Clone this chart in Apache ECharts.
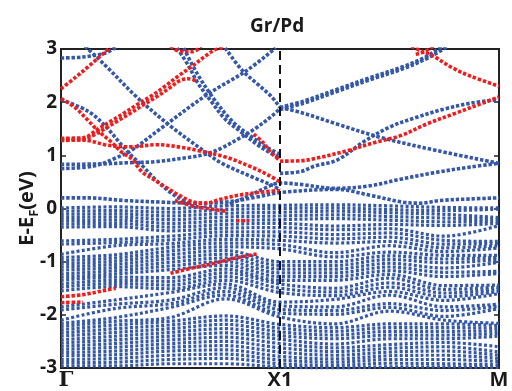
<!DOCTYPE html>
<html>
<head>
<meta charset="utf-8">
<script src="https://cdn.jsdelivr.net/npm/echarts@6/dist/echarts.min.js"></script>
<style>
  html, body { margin: 0; padding: 0; background: #fff; }
  #chart { width: 512px; height: 391px; }
</style>
</head>
<body>
<div id="chart"></div>
<script>
// high-symmetry path: Γ = 0, X1 = 1, M = 2
const kTicks = [0, 1, 2]
const kLabels = ['Γ', 'X1', 'M']

// dense valence manifold, energies (eV) read at 9 k columns
const denseK = [0, 0.25, 0.5, 0.75, 1, 1.25, 1.5, 1.75, 2]
const denseAtG = [0.01, -0.05, -0.11, -0.17, -0.23, -0.29, -0.35, -0.61, -0.67, -0.86, -0.92, -0.98, -1.04, -1.10, -1.16, -1.23, -1.29, -1.35, -1.42, -1.48, -1.55, -1.85, -1.91, -2.10, -2.16, -2.22, -2.28, -2.34, -2.40, -2.47, -2.53, -2.59, -2.65, -2.71, -2.77, -2.84, -2.90, -2.96]
const denseAt025 = [0.03, -0.04, -0.10, -0.16, -0.22, -0.28, -0.34, -0.58, -0.64, -0.70, -0.87, -0.93, -0.99, -1.05, -1.11, -1.17, -1.23, -1.29, -1.35, -1.41, -1.47, -1.72, -1.80, -1.88, -2.05, -2.12, -2.19, -2.26, -2.33, -2.40, -2.47, -2.54, -2.61, -2.68, -2.75, -2.82, -2.89, -2.96]
const denseAt050 = [0.0, -0.07, -0.14, -0.21, -0.28, -0.35, -0.42, -0.52, -0.59, -0.66, -0.73, -0.80, -0.87, -0.94, -1.01, -1.08, -1.15, -1.30, -1.37, -1.44, -1.51, -1.58, -1.72, -1.79, -1.86, -2.05, -2.12, -2.19, -2.26, -2.33, -2.40, -2.47, -2.54, -2.61, -2.68, -2.76, -2.84, -2.92]
const denseAt075 = [0.05, -0.02, -0.09, -0.16, -0.23, -0.30, -0.37, -0.44, -0.51, -0.58, -0.65, -0.72, -0.79, -0.86, -0.93, -1.00, -1.07, -1.14, -1.21, -1.28, -1.35, -1.42, -1.49, -1.56, -1.63, -1.70, -2.02, -2.10, -2.18, -2.26, -2.34, -2.42, -2.50, -2.58, -2.66, -2.74, -2.82, -2.92]
const denseAtX1 = [0.06, 0.0, -0.07, -0.14, -0.21, -0.28, -0.36, -0.44, -0.52, -0.60, -0.68, -0.76, -1.00, -1.07, -1.14, -1.21, -1.28, -1.35, -1.42, -1.50, -1.58, -1.76, -1.83, -1.90, -1.97, -2.04, -2.18, -2.25, -2.32, -2.39, -2.46, -2.54, -2.62, -2.70, -2.78, -2.85, -2.92, -2.98]
const denseAt125 = [0.07, 0.01, -0.05, -0.12, -0.19, -0.33, -0.40, -0.49, -0.57, -0.65, -0.83, -0.91, -1.00, -1.07, -1.14, -1.21, -1.28, -1.35, -1.50, -1.57, -1.64, -1.71, -1.85, -1.92, -1.99, -2.17, -2.24, -2.31, -2.38, -2.45, -2.55, -2.62, -2.69, -2.76, -2.83, -2.89, -2.95, -3.0]
const denseAt150 = [0.05, -0.02, -0.08, -0.15, -0.22, -0.30, -0.38, -0.46, -0.54, -0.62, -0.70, -0.82, -0.89, -0.96, -1.03, -1.10, -1.17, -1.24, -1.31, -1.40, -1.48, -1.56, -1.63, -1.79, -1.86, -1.93, -2.17, -2.24, -2.31, -2.38, -2.45, -2.56, -2.63, -2.70, -2.77, -2.84, -2.91, -2.98]
const denseAt175 = [0.02, -0.04, -0.11, -0.18, -0.25, -0.32, -0.52, -0.60, -0.67, -0.74, -0.81, -0.88, -0.95, -1.02, -1.12, -1.20, -1.28, -1.45, -1.52, -1.59, -1.66, -1.73, -1.85, -1.92, -2.03, -2.10, -2.17, -2.24, -2.31, -2.38, -2.45, -2.52, -2.60, -2.68, -2.76, -2.84, -2.92, -2.98]
const denseAtM = [0.01, -0.01, -0.17, -0.20, -0.24, -0.28, -0.32, -0.62, -0.66, -0.70, -0.74, -0.88, -0.92, -0.96, -1.01, -1.18, -1.22, -1.44, -1.48, -1.52, -1.56, -1.60, -1.80, -1.84, -1.88, -2.16, -2.20, -2.25, -2.30, -2.35, -2.40, -2.60, -2.70, -2.76, -2.82, -2.88, -2.94, -2.99]
const denseCols = [denseAtG, denseAt025, denseAt050, denseAt075, denseAtX1, denseAt125, denseAt150, denseAt175, denseAtM]

// individual blue bands above / around E_F, [k, E]
const blueTopG = [[0, 2.83], [0.1, 2.85], [0.2, 2.92], [0.25, 3.03]]
const blueDownA = [[0.11, 3.05], [0.2, 2.7], [0.35, 2.08], [0.5, 1.55], [0.66, 1.06], [0.735, 0.85], [0.886, 0.57], [0.963, 0.44], [1, 0.35]]
const blueDownB = [[0, 2.05], [0.123, 1.83], [0.2, 1.56], [0.28, 1.18], [0.32, 1.0], [0.37, 0.81], [0.43, 0.55], [0.5, 0.3], [0.57, 0.12], [0.61, 0.02]]
const blueFlatUp = [[0, 0.83], [0.2, 0.84], [0.3, 0.86], [0.43, 0.88], [0.58, 0.96], [0.66, 1.02], [0.735, 1.14], [0.81, 1.31], [0.886, 1.5], [0.963, 1.74], [1, 1.88]]
const blueRise = [[0, 0.75], [0.15, 0.8], [0.25, 0.95], [0.32, 1.09], [0.47, 1.55], [0.67, 2.15], [0.85, 2.6], [0.98, 3.02]]
const blueDownC = [[0.53, 3.02], [0.58, 2.7], [0.625, 2.36], [0.69, 1.99], [0.75, 1.68], [0.825, 1.43], [0.9, 1.19], [0.975, 1.0], [1, 0.95]]
const blueDownD = [[0.56, 3.02], [0.62, 2.55], [0.7, 2.05], [0.78, 1.65], [0.86, 1.38], [0.94, 1.15], [1, 1.02]]
const blueDownE = [[0.75, 3.02], [0.825, 2.61], [0.9, 2.33], [0.96, 2.11], [1, 1.9]]
const blueNearF = [[0, 0.2], [0.125, 0.2], [0.29, 0.15], [0.46, 0.12], [0.6, 0.1], [0.75, 0.12], [0.9, 0.22], [1, 0.3], [1.26, 0.36], [1.41, 0.25], [1.56, 0.12], [1.64, 0.1], [1.73, 0.15], [1.87, 0.18], [2, 0.2]]
const blueToX1 = [[0.75, 0.05], [0.85, 0.22], [0.93, 0.38], [1, 0.48], [1.1, 0.45], [1.25, 0.38], [1.4, 0.42], [1.55, 0.55], [1.7, 0.67], [1.87, 0.78], [2, 0.85]]
const blueXM1 = [[1, 0.66], [1.1, 0.7], [1.16, 0.8], [1.26, 0.91], [1.38, 1.25], [1.5, 1.53], [1.62, 1.71], [1.75, 1.87], [1.87, 1.98], [2, 2.05]]
const blueXM2 = [[1, 1.9], [1.107, 2.02], [1.259, 2.24], [1.41, 2.46], [1.563, 2.67], [1.67, 2.86], [1.715, 2.98], [1.74, 3.04]]
const blueXM3 = [[1, 1.86], [1.107, 1.98], [1.259, 2.2], [1.41, 2.42], [1.563, 2.63], [1.67, 2.82], [1.73, 2.96], [1.76, 3.04]]
const blueXM4 = [[1, 1.9], [1.1, 1.8], [1.259, 1.59], [1.457, 1.34], [1.716, 1.09], [2, 0.85]]
const blueBands = [blueTopG, blueDownA, blueDownB, blueFlatUp, blueRise, blueDownC, blueDownD, blueDownE, blueNearF, blueToX1, blueXM1, blueXM2, blueXM3, blueXM4]

// red (Pd-projected) bands, [k, E]
const redUpG = [[0, 2.25], [0.064, 2.46], [0.125, 2.67], [0.186, 2.89], [0.224, 3.03]]
const redDip = [[0, 2.07], [0.064, 1.9], [0.125, 1.65], [0.17, 1.46], [0.23, 1.25], [0.277, 1.06], [0.32, 0.94], [0.37, 0.69], [0.414, 0.57], [0.475, 0.41], [0.535, 0.26], [0.597, 0.13], [0.657, 0.1], [0.734, 0.18], [0.81, 0.25], [0.9, 0.3], [1, 0.34]]
const redRiseA = [[0, 1.32], [0.1, 1.33], [0.17, 1.5], [0.23, 1.65], [0.29, 1.8], [0.35, 1.96], [0.41, 2.11], [0.475, 2.3], [0.535, 2.49], [0.597, 2.67], [0.657, 2.86], [0.7, 2.98], [0.74, 3.03]]
const redRiseB = [[0, 1.28], [0.1, 1.3], [0.15, 1.38], [0.2, 1.5], [0.26, 1.65], [0.32, 1.8], [0.38, 1.96], [0.44, 2.11], [0.5, 2.28], [0.54, 2.4], [0.58, 2.44], [0.62, 2.4]]
const redCap = [[0.5, 3.05], [0.54, 2.96], [0.6, 2.95], [0.64, 3.05]]
const redHump = [[0, 1.3], [0.12, 1.28], [0.2, 1.2], [0.25, 1.17], [0.32, 1.16], [0.44, 1.2], [0.55, 1.15], [0.625, 1.09], [0.75, 0.97], [0.87, 0.78], [0.95, 0.62], [1, 0.5]]
const redToX1 = [[0.88, 1.4], [0.92, 1.25], [0.96, 1.05], [1, 0.9]]
const redXM1 = [[1, 0.89], [1.1, 0.9], [1.16, 0.94], [1.31, 1.09], [1.44, 1.25], [1.55, 1.37], [1.67, 1.59], [1.8, 1.79], [1.93, 1.99], [2, 2.1]]
const redXM2 = [[1.6, 3.05], [1.65, 2.95], [1.69, 2.89], [1.79, 2.64], [1.87, 2.49], [2, 2.3]]
const redXM3 = [[1.62, 2.9], [1.66, 2.95], [1.7, 3.05]]
const redLowA = [[0, -1.66], [0.1, -1.62], [0.2, -1.54], [0.25, -1.5]]
const redLowB = [[0, -1.77], [0.1, -1.76]]
const redLowC = [[0.5, -1.22], [0.6, -1.12], [0.7, -1.03], [0.8, -0.93], [0.9, -0.85]]
const redLowD = [[0.52, 0.15], [0.6, 0.05], [0.7, -0.02], [0.75, -0.05]]
const redLowE = [[0.8, -0.23], [0.86, -0.23]]
const redBands = [redUpG, redDip, redRiseA, redRiseB, redCap, redHump, redToX1, redXM1, redXM2, redXM3, redLowA, redLowB, redLowC, redLowD, redLowE]

const yTicks = { min: -3, max: 3, interval: 1 }

const BLUE = '#3457a8'
const RED = '#ee1c1c'
const FONT = '"Open Sans", "DejaVu Sans", sans-serif'

const bandSeries = (data, color, z, width, dash) => ({
    type: 'line',
    data,
    smooth: 0.35,
    symbol: 'none',
    silent: true,
    animation: false,
    z,
    lineStyle: { color, width, type: dash, cap: 'butt' },
})

const series = []
for (let i = 0; i < denseAtG.length; i++) {
    series.push(bandSeries(denseK.map((k, j) => [k, denseCols[j][i]]), BLUE, 2, 3.2, [3, 2.3]))
}
blueBands.forEach((b) => series.push(bandSeries(b, BLUE, 3, 3.6, [3.4, 1.9])))
redBands.forEach((b) => series.push(bandSeries(b, RED, 4, 3.6, [3.4, 1.9])))
series.push({
    type: 'line',
    data: [],
    z: 6,
    markLine: {
        symbol: 'none',
        silent: true,
        animation: false,
        label: { show: false },
        lineStyle: { color: '#111', width: 2, type: [9, 5] },
        data: [{ xAxis: kTicks[1] }],
    },
})

const chart = echarts.init(document.getElementById('chart'))
chart.setOption({
    animation: false,
    backgroundColor: '#fff',
    title: {
        text: 'Gr/Pd',
        left: 245,
        top: 12,
        textStyle: { fontFamily: FONT, fontSize: 19, fontWeight: 'bold', color: '#1a1a1a' },
    },
    grid: {
        left: 61, right: 13, top: 49, bottom: 19,
        show: true, borderColor: '#222', borderWidth: 2,
    },
    xAxis: {
        type: 'value',
        min: 0, max: 2, interval: 1,
        axisLine: { show: false },
        axisTick: { show: false },
        splitLine: { show: false },
        axisLabel: {
            margin: 2,
            fontFamily: FONT, fontSize: 20, fontWeight: 'bold', color: '#1a1a1a',
            formatter: (v) => {
                const i = kTicks.indexOf(v)
                if (i === 0) return '{g|' + kLabels[0] + '}'
                return i >= 0 ? kLabels[i] : ''
            },
            rich: {
                g: { fontFamily: '"DejaVu Serif", serif', fontSize: 21, color: '#1a1a1a', padding: [0, 0, 0, 10] },
            },
        },
    },
    yAxis: [
        {
            type: 'value',
            ...yTicks,
            name: 'E-E{s|F}(eV)',
            nameLocation: 'middle',
            nameRotate: 90,
            nameGap: 20,
            nameMoveOverlap: false,
            nameTextStyle: {
                fontFamily: FONT, fontSize: 20, fontWeight: 'bold', color: '#1a1a1a',
                rich: { s: { fontFamily: FONT, fontSize: 13, fontWeight: 'bold', color: '#1a1a1a', padding: [14, 0, 0, 0] } },
            },
            axisLine: { show: true, lineStyle: { color: '#222', width: 2 } },
            axisTick: { show: true, inside: true, length: 5, lineStyle: { color: '#222', width: 1.5 } },
            splitLine: { show: false },
            axisLabel: { margin: 4, fontFamily: FONT, fontSize: 19, fontWeight: 'bold', color: '#1a1a1a' },
        },
        {
            type: 'value',
            position: 'right',
            ...yTicks,
            axisLine: { show: true, lineStyle: { color: '#222', width: 2 } },
            axisTick: { show: true, inside: true, length: 5, lineStyle: { color: '#222', width: 1.5 } },
            splitLine: { show: false },
            axisLabel: { show: false },
        },
    ],
    series,
})
</script>
</body>
</html>
